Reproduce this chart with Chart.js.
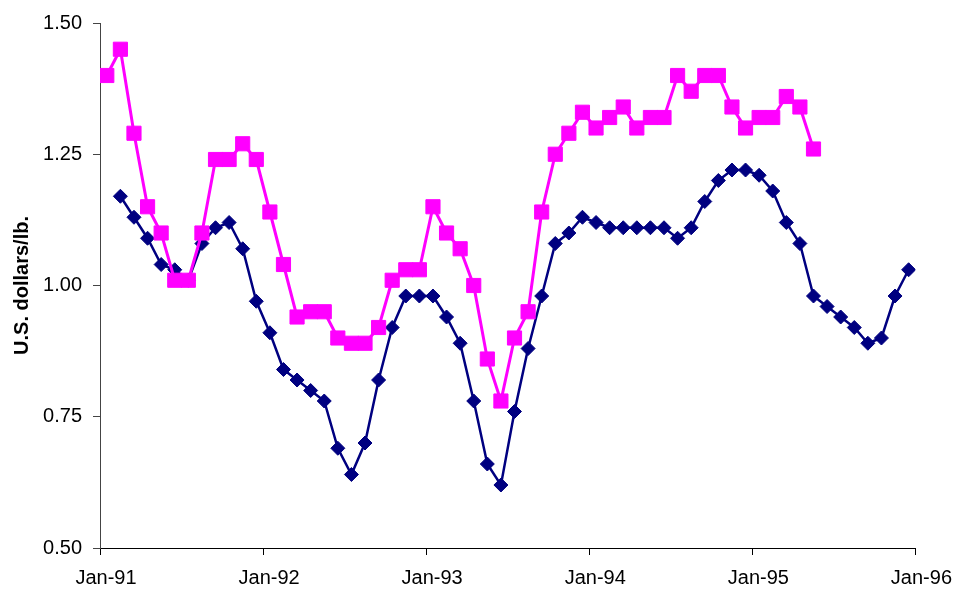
<!DOCTYPE html>
<html>
<head>
<meta charset="utf-8">
<title>Price chart</title>
<script src="https://cdn.jsdelivr.net/npm/chart.js@4.4.0/dist/chart.umd.min.js"></script>
<style>
  html, body { margin: 0; padding: 0; background: #fff; }
  #wrap { width: 957px; height: 589px; position: relative; }
</style>
</head>
<body>
<div id="wrap"><canvas id="priceChart"></canvas></div>
<script>
// year labels on the x axis (one tick every 12 months)
const tickLabels = ['Jan-91', 'Jan-92', 'Jan-93', 'Jan-94', 'Jan-95', 'Jan-96'];

// monthly values, first entry = Jan-91
const pinkSeries = [
  1.40, 1.45, 1.29, 1.15, 1.10, 1.01, 1.01, 1.10, 1.24, 1.24, 1.27, 1.24,
  1.14, 1.04, 0.94, 0.95, 0.95, 0.90, 0.89, 0.89, 0.92, 1.01, 1.03, 1.03,
  1.15, 1.10, 1.07, 1.00, 0.86, 0.78, 0.90, 0.95, 1.14, 1.25, 1.29, 1.33,
  1.30, 1.32, 1.34, 1.30, 1.32, 1.32, 1.40, 1.37, 1.40, 1.40, 1.34, 1.30,
  1.32, 1.32, 1.36, 1.34, 1.26
];

// starts in Feb-91 (Jan-91 missing)
const navySeries = [
  null, 1.17, 1.13, 1.09, 1.04, 1.03, 1.01, 1.08, 1.11, 1.12, 1.07, 0.97,
  0.91, 0.84, 0.82, 0.80, 0.78, 0.69, 0.64, 0.70, 0.82, 0.92, 0.98, 0.98,
  0.98, 0.94, 0.89, 0.78, 0.66, 0.62, 0.76, 0.88, 0.98, 1.08, 1.10, 1.13,
  1.12, 1.11, 1.11, 1.11, 1.11, 1.11, 1.09, 1.11, 1.16, 1.20, 1.22, 1.22,
  1.21, 1.18, 1.12, 1.08, 0.98, 0.96, 0.94, 0.92, 0.89, 0.90, 0.98, 1.03
];

// each value sits in the middle of its month
function toPoints(values) {
  return values.map((v, i) => ({ x: i + 0.5, y: v }));
}

const ctx = document.getElementById('priceChart').getContext('2d');
new Chart(ctx, {
  type: 'line',
  data: {
    datasets: [
      {
        data: toPoints(pinkSeries),
        borderColor: '#FF00FF',
        backgroundColor: '#FF00FF',
        borderWidth: 3,
        pointStyle: 'rect',
        pointRadius: 10,
        pointBorderWidth: 1,
        pointBorderColor: '#FF00FF',
        pointBackgroundColor: '#FF00FF',
        tension: 0
      },
      {
        data: toPoints(navySeries),
        borderColor: '#000080',
        backgroundColor: '#000080',
        borderWidth: 2.5,
        pointStyle: 'rectRot',
        pointRadius: 7,
        pointBorderWidth: 1,
        pointBorderColor: '#000080',
        pointBackgroundColor: '#000080',
        tension: 0
      }
    ]
  },
  options: {
    responsive: true,
    maintainAspectRatio: false,
    animation: false,
    layout: { padding: { top: 22, right: 41, bottom: 0, left: 0 } },
    plugins: {
      legend: { display: false },
      tooltip: { enabled: false }
    },
    scales: {
      x: {
        type: 'linear',
        min: 0,
        max: 60,
        border: { display: true, color: '#000', width: 1 },
        grid: { drawOnChartArea: false, drawTicks: true, tickLength: 7, color: '#000' },
        ticks: {
          stepSize: 12,
          autoSkip: false,
          maxRotation: 0,
          padding: 11,
          labelOffset: 6,
          color: '#000',
          font: { family: 'Arial, "Liberation Sans", sans-serif', size: 20 },
          callback: value => tickLabels[value / 12]
        },
        afterFit: scale => { scale.height = 41; }
      },
      y: {
        min: 0.5,
        max: 1.5,
        border: { display: true, color: '#444', width: 1 },
        grid: { drawOnChartArea: false, drawTicks: true, tickLength: 7, color: '#444' },
        ticks: {
          stepSize: 0.25,
          padding: 11,
          color: '#000',
          font: { family: 'Arial, "Liberation Sans", sans-serif', size: 20 },
          callback: value => value.toFixed(2)
        },
        title: {
          display: true,
          text: 'U.S. dollars/lb.',
          color: '#000',
          padding: { top: 10, bottom: 4 },
          font: { family: 'Arial, "Liberation Sans", sans-serif', size: 20, weight: 'bold' }
        },
        afterFit: scale => { scale.width = 100; }
      }
    }
  }
});
</script>
</body>
</html>
